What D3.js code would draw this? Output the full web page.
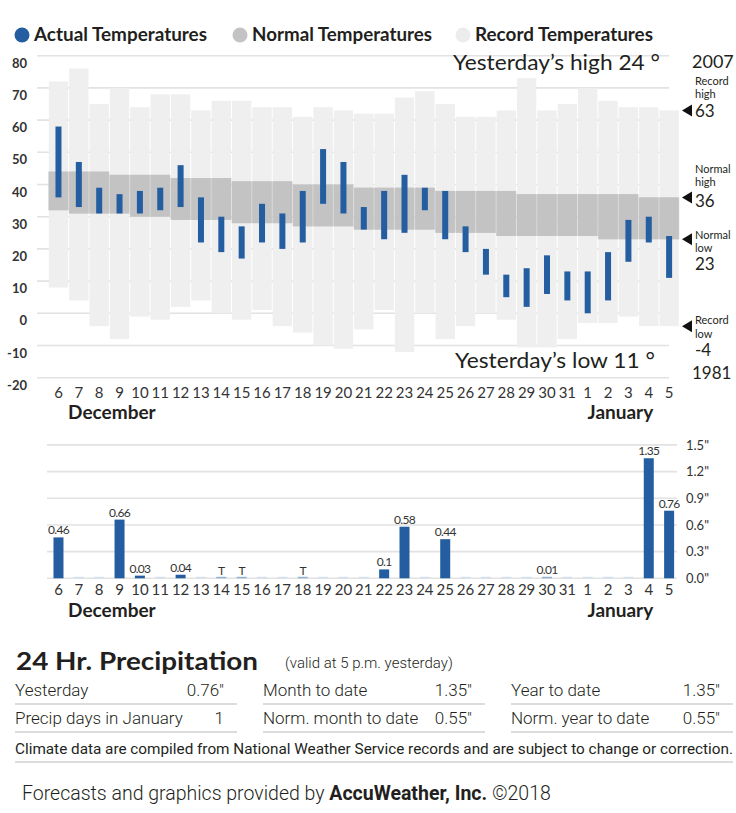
<!DOCTYPE html>
<html>
<head>
<meta charset="utf-8">
<script src="https://cdn.jsdelivr.net/npm/d3@7"></script>
<style>
  body { margin: 0; background: #fff; }
  svg { display: block; font-family: Lato, "Open Sans", sans-serif; }
</style>
</head>
<body>
<div id="vis"></div>
<script>
const width = 736;
const height = 813;

const days = ["6","7","8","9","10","11","12","13","14","15","16","17","18","19","20",
  "21","22","23","24","25","26","27","28","29","30","31","1","2","3","4","5"];
const recordHigh = [72,76,65,70,64,68,68,63,66,66,64,64,61,64,63,62,62,67,69,65,61,61,63,73,63,65,70,66,64,64,63];
const recordLow = [8,4,-4,-8,-1,-2,2,4,0,-2,1,-4,-6,-10,-11,-5,1,-12,0,-8,-4,0,-2,-11,-11,-8,-3,-3,-1,-4,-4];
const normalHigh = [44,44,44,43,43,43,42,42,42,41,41,41,40,40,40,39,39,39,39,38,38,38,38,37,37,37,37,37,37,36,36];
const normalLow = [32,31,31,31,30,30,29,29,29,28,28,28,27,27,27,26,26,26,26,25,25,25,24,24,24,24,24,23,23,23,23];
const actualHigh = [58,47,39,37,38,39,46,36,30,27,34,31,38,51,47,33,38,43,39,38,27,20,12,14,18,13,13,19,29,30,24];
const actualLow = [36,33,31,31,31,32,33,22,19,17,22,20,22,34,31,26,23,25,32,23,19,12,5,2,6,4,0,4,16,22,11];
const precip = [0.46,0,0,0.66,0.03,0,0.04,0,"T","T",0,0,"T",0,0,0,0.1,0.58,0,0.44,0,0,0,0,0.01,0,0,0,0,1.35,0.76];

const tempTicks = [80,70,60,50,40,30,20,10,0,-10,-20];
const precipTicks = [0,0.3,0.6,0.9,1.2,1.5];
const months = [{name: "December", day: "10", dx: -28}, {name: "January", day: "3", dx: -8}];

const legendItems = [
  {label: "Actual Temperatures", color: "#245da0", x: 22, w: 173},
  {label: "Normal Temperatures", color: "#c3c3c3", x: 240, w: 180},
  {label: "Record Temperatures", color: "#ececec", x: 463, w: 178}
];

const tableRows = [
  ["Yesterday", "0.76\u2033", "Month to date", "1.35\u2033", "Year to date", "1.35\u2033"],
  ["Precip days in January", "1", "Norm. month to date", "0.55\u2033", "Norm. year to date", "0.55\u2033"]
];

const ink = "#231f20";
const blue = "#245da0";

const data = days.map((d, i) => ({
  day: d, rh: recordHigh[i], rl: recordLow[i], nh: normalHigh[i], nl: normalLow[i],
  ah: actualHigh[i], al: actualLow[i], p: precip[i]
}));

const svg = d3.select("#vis").append("svg")
  .attr("width", width)
  .attr("height", height);

const x = d3.scaleBand().domain(days).range([48.3, 679.3]).padding(0);
const y = d3.scaleLinear().domain([-20, 80]).range([377.7, 55.7]);
const yp = d3.scaleLinear().domain([0, 1.5]).range([578.3, 444.9]);

// legend
const leg = svg.append("g").selectAll("g").data(legendItems).join("g")
  .attr("transform", d => `translate(${d.x},35)`);
leg.append("circle").attr("r", 7.5).attr("fill", d => d.color);
leg.append("text").attr("x", 12).attr("dy", "0.36em")
  .attr("font-size", 18).attr("font-weight", 700).attr("fill", ink)
  .attr("textLength", d => d.w).attr("lengthAdjust", "spacingAndGlyphs")
  .text(d => d.label);

// temperature gridlines
svg.append("g").selectAll("line").data(tempTicks).join("line")
  .attr("x1", 37).attr("x2", 669)
  .attr("y1", d => y(d)).attr("y2", d => y(d))
  .attr("stroke", "#e2e2e2").attr("stroke-width", 1.6);

svg.append("g").selectAll("text").data(tempTicks).join("text")
  .attr("x", 27).attr("y", d => y(d) + 12)
  .attr("text-anchor", "end").attr("font-size", 13).attr("font-weight", 700)
  .attr("fill", "#333").text(d => d);

// record bars
svg.append("g").selectAll("rect").data(data).join("rect")
  .attr("x", d => x(d.day) + 0.5).attr("width", x.bandwidth() - 1)
  .attr("y", d => y(d.rh)).attr("height", d => y(d.rl) - y(d.rh))
  .attr("fill", "#efefef");

// normal bars
svg.append("g").selectAll("rect").data(data).join("rect")
  .attr("x", d => x(d.day) + 0.5).attr("width", x.bandwidth() - 1)
  .attr("y", d => y(d.nh)).attr("height", d => y(d.nl) - y(d.nh))
  .attr("fill", "#c3c3c3");
svg.append("g").selectAll("rect").data(data).join("rect")
  .attr("x", d => x(d.day)).attr("width", x.bandwidth())
  .attr("y", d => y(d.nh)).attr("height", d => y(d.nl) - y(d.nh))
  .attr("fill", "#c3c3c3").attr("opacity", 0.6);

// actual bars
svg.append("g").selectAll("rect").data(data).join("rect")
  .attr("x", d => x(d.day) + x.bandwidth() / 2 - 3).attr("width", 6)
  .attr("y", d => y(d.ah)).attr("height", d => y(d.al) - y(d.ah))
  .attr("fill", blue);

// yesterday labels
svg.append("text").attr("x", 453).attr("y", 70)
  .attr("font-size", 22).attr("fill", ink)
  .attr("textLength", 207).attr("lengthAdjust", "spacingAndGlyphs")
  .text("Yesterday\u2019s high 24 \u00b0");
svg.append("rect").attr("x", 450).attr("y", 347.5).attr("width", 215).attr("height", 28).attr("fill", "#fff");
svg.append("text").attr("x", 455).attr("y", 368)
  .attr("font-size", 22).attr("fill", ink)
  .attr("textLength", 200).attr("lengthAdjust", "spacingAndGlyphs")
  .text("Yesterday\u2019s low 11 \u00b0");

// right annotations
const last = data[data.length - 1];
const marks = [
  {v: last.rh, lines: [["Record", -25], ["high", -12]], num: [String(last.rh), 7]},
  {v: last.nh, lines: [["Normal", -24], ["high", -11]], num: [String(last.nh), 10]},
  {v: last.nl, lines: [["Normal", 0], ["low", 13]], num: [String(last.nl), 31]},
  {v: last.rl, lines: [["Record", -2], ["low", 12]], num: [String(last.rl), 30]}
];
const ann = svg.append("g").selectAll("g").data(marks).join("g")
  .attr("transform", d => `translate(0,${y(d.v)})`);
ann.append("path").attr("d", "M682,0L692,-6L692,6Z").attr("fill", "#111");
ann.each(function(d) {
  const g = d3.select(this);
  d.lines.forEach(([t, dy]) => {
    g.append("text").attr("x", 695).attr("y", dy).attr("font-size", 11)
      .attr("fill", ink).text(t);
  });
  g.append("text").attr("x", 695).attr("y", d.num[1]).attr("font-size", 17)
    .attr("fill", ink).text(d.num[0]);
});
svg.append("text").attr("x", 692).attr("y", 68).attr("font-size", 18).attr("fill", ink).text("2007");
svg.append("text").attr("x", 692).attr("y", 379).attr("font-size", 17).attr("fill", ink).text("1981");

// temperature x labels
svg.append("g").selectAll("text").data(days).join("text")
  .attr("x", d => x(d) + x.bandwidth() / 2).attr("y", 398)
  .attr("text-anchor", "middle").attr("font-size", 15).attr("fill", "#333")
  .text(d => d);
svg.append("g").selectAll("text").data(months).join("text")
  .attr("x", d => x(d.day) + x.bandwidth() / 2 + d.dx)
  .attr("y", 419).attr("text-anchor", "middle")
  .attr("font-size", 19).attr("font-weight", 700).attr("fill", ink)
  .text(d => d.name);

// precipitation chart
svg.append("g").selectAll("line").data(precipTicks).join("line")
  .attr("x1", 47).attr("x2", 677)
  .attr("y1", d => yp(d)).attr("y2", d => yp(d))
  .attr("stroke", "#e2e2e2").attr("stroke-width", 1.6);
svg.append("g").selectAll("text").data(precipTicks).join("text")
  .attr("x", 686).attr("y", d => yp(d)).attr("dy", "0.36em")
  .attr("font-size", 13).attr("fill", "#333")
  .text(d => d3.format(".1f")(d) + "\"");

const pv = d => (typeof d.p === "number" ? d.p : 0);
svg.append("g").selectAll("rect").data(data).join("rect")
  .attr("x", d => x(d.day) + x.bandwidth() / 2 - 5).attr("width", 10)
  .attr("y", d => Math.min(yp(pv(d)), yp(0) - 1.5))
  .attr("height", d => Math.max(yp(0) - yp(pv(d)), 1.5))
  .attr("fill", d => pv(d) >= 0.02 ? blue : (d.p === 0 ? "#d3e0ef" : "#8fb0d8"));

svg.append("g").selectAll("text").data(data.filter(d => d.p !== 0)).join("text")
  .attr("x", d => x(d.day) + x.bandwidth() / 2)
  .attr("y", d => yp(pv(d)) - 3)
  .attr("text-anchor", "middle").attr("font-size", 12)
  .attr("letter-spacing", -0.7).attr("fill", "#333")
  .text(d => String(d.p));

svg.append("g").selectAll("text").data(days).join("text")
  .attr("x", d => x(d) + x.bandwidth() / 2).attr("y", 595)
  .attr("text-anchor", "middle").attr("font-size", 15).attr("fill", "#333")
  .text(d => d);
svg.append("g").selectAll("text").data(months).join("text")
  .attr("x", d => x(d.day) + x.bandwidth() / 2 + d.dx)
  .attr("y", 617).attr("text-anchor", "middle")
  .attr("font-size", 19).attr("font-weight", 700).attr("fill", ink)
  .text(d => d.name);

// table
svg.append("text").attr("x", 16).attr("y", 670)
  .attr("font-size", 24).attr("font-weight", 700).attr("fill", ink)
  .attr("textLength", 242).attr("lengthAdjust", "spacingAndGlyphs")
  .text("24 Hr. Precipitation");
svg.append("text").attr("x", 285).attr("y", 668)
  .attr("font-family", "Roboto").attr("font-weight", 300)
  .attr("font-size", 15).attr("fill", ink)
  .text("(valid at 5 p.m. yesterday)");

const colX = [15, 263, 511];
const colW = 222;
tableRows.forEach((row, r) => {
  const ty = 696 + r * 28;
  colX.forEach((cx, c) => {
    svg.append("text").attr("x", cx).attr("y", ty)
      .attr("font-family", "Roboto").attr("font-weight", 300)
      .attr("font-size", 17).attr("fill", ink).text(row[c * 2]);
    svg.append("text").attr("x", cx + colW - 13).attr("y", ty)
      .attr("text-anchor", "end")
      .attr("font-family", "Roboto").attr("font-weight", 300)
      .attr("font-size", 17).attr("fill", ink).text(row[c * 2 + 1]);
    svg.append("line").attr("x1", cx).attr("x2", cx + colW)
      .attr("y1", ty + 8).attr("y2", ty + 8)
      .attr("stroke", "#d0d0d0").attr("stroke-width", 1.5);
  });
});

svg.append("text").attr("x", 15).attr("y", 754)
  .attr("font-family", "Roboto").attr("font-size", 14).attr("fill", ink)
  .attr("textLength", 718).attr("lengthAdjust", "spacingAndGlyphs")
  .text("Climate data are compiled from National Weather Service records and are subject to change or correction.");
svg.append("line").attr("x1", 15).attr("x2", 733).attr("y1", 762).attr("y2", 762)
  .attr("stroke", "#d0d0d0").attr("stroke-width", 1.5);

const foot = svg.append("text").attr("x", 22).attr("y", 800)
  .attr("font-family", "Roboto").attr("font-weight", 300)
  .attr("font-size", 19.5).attr("fill", ink);
foot.append("tspan").text("Forecasts and graphics provided by ");
foot.append("tspan").attr("font-weight", 700).text("AccuWeather, Inc.");
foot.append("tspan").text(" \u00a92018");
</script>
</body>
</html>
